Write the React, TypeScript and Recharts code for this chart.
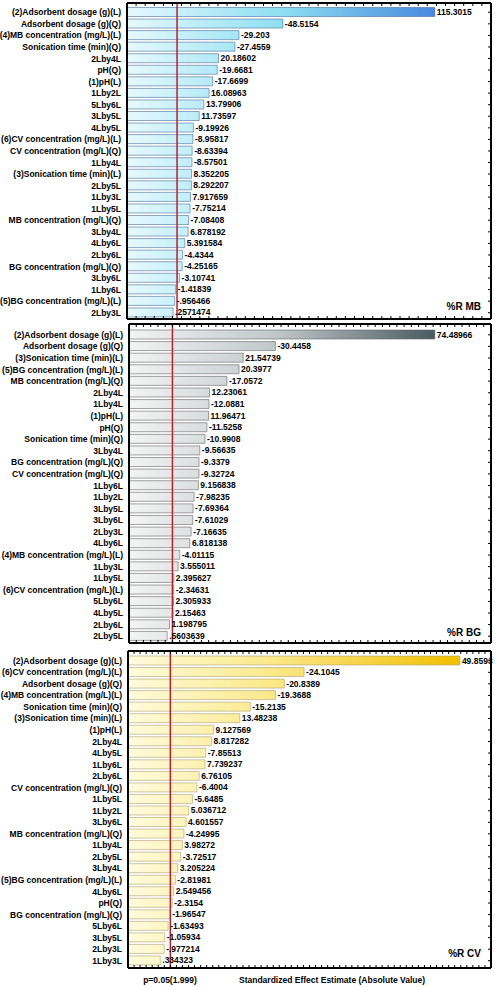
import React from 'react';
import { BarChart, Bar, XAxis, YAxis, LabelList, ReferenceLine } from 'recharts';

const mbFactors = [
  '(2)Adsorbent dosage (g)(L)', 'Adsorbent dosage (g)(Q)', '(4)MB concentration (mg/L)(L)', 'Sonication time (min)(Q)',
  '2Lby4L', 'pH(Q)', '(1)pH(L)', '1Lby2L', '5Lby6L', '3Lby5L', '4Lby5L', '(6)CV concentration (mg/L)(L)',
  'CV concentration (mg/L)(Q)', '1Lby4L', '(3)Sonication time (min)(L)', '2Lby5L', '1Lby3L', '1Lby5L',
  'MB concentration (mg/L)(Q)', '3Lby4L', '4Lby6L', '2Lby6L', 'BG concentration (mg/L)(Q)', '3Lby6L', '1Lby6L',
  '(5)BG concentration (mg/L)(L)', '2Lby3L',
];
const mbEffects = [
  115.3015, -48.5154, -29.203, -27.4559, 20.18602, -19.6681, -17.6699, 16.08963, 13.79906, 11.73597, -9.19926,
  -8.95817, -8.63394, -8.57501, 8.352205, 8.292207, 7.917659, -7.75214, -7.08408, 6.878192, 5.391584, -4.4344,
  -4.25165, -3.10741, -1.41839, -0.956466, 0.2571474,
];

const bgFactors = [
  '(2)Adsorbent dosage (g)(L)', 'Adsorbent dosage (g)(Q)', '(3)Sonication time (min)(L)', '(5)BG concentration (mg/L)(L)',
  'MB concentration (mg/L)(Q)', '2Lby4L', '1Lby4L', '(1)pH(L)', 'pH(Q)', 'Sonication time (min)(Q)', '3Lby4L',
  'BG concentration (mg/L)(Q)', 'CV concentration (mg/L)(Q)', '1Lby6L', '1Lby2L', '3Lby5L', '3Lby6L', '2Lby3L',
  '4Lby6L', '(4)MB concentration (mg/L)(L)', '1Lby3L', '1Lby5L', '(6)CV concentration (mg/L)(L)', '5Lby6L',
  '4Lby5L', '2Lby6L', '2Lby5L',
];
const bgEffects = [
  74.48966, -30.4458, 21.54739, 20.3977, -17.0572, 12.23061, -12.0881, 11.96471, -11.5258, -10.9908, -9.56635,
  -9.3379, -9.32724, 9.156838, -7.98235, -7.69364, -7.61029, -7.16635, 6.818138, -4.01115, 3.555011, 2.395627,
  -2.34631, 2.305933, 2.15463, 1.198795, 0.5603639,
];

const cvFactors = [
  '(2)Adsorbent dosage (g)(L)', '(6)CV concentration (mg/L)(L)', 'Adsorbent dosage (g)(Q)', '(4)MB concentration (mg/L)(L)',
  'Sonication time (min)(Q)', '(3)Sonication time (min)(L)', '(1)pH(L)', '2Lby4L', '4Lby5L', '1Lby6L', '2Lby6L',
  'CV concentration (mg/L)(Q)', '1Lby5L', '1Lby2L', '3Lby6L', 'MB concentration (mg/L)(Q)', '1Lby4L', '2Lby5L',
  '3Lby4L', '(5)BG concentration (mg/L)(L)', '4Lby6L', 'pH(Q)', 'BG concentration (mg/L)(Q)', '5Lby6L', '3Lby5L',
  '2Lby3L', '1Lby3L',
];
const cvEffects = [
  49.8593, -24.1045, -20.8389, -19.3688, -15.2135, 13.48238, 9.127569, 8.817282, -7.85513, 7.739237, 6.76105,
  -6.4004, -5.6485, 5.036712, 4.601557, -4.24995, 3.98272, -3.72517, 3.205224, -2.81981, 2.549456, -2.3154,
  -1.96547, -1.63493, -1.05934, -0.977214, 0.334323,
];

const CRITICAL_T = 1.999;
const responseLabels = ['%R MB', '%R BG', '%R CV'];
const pLabel = 'p=0.05(1.999)';
const xTitle = 'Standardized Effect Estimate (Absolute Value)';

const FONT = "'Liberation Sans', Arial, Helvetica, sans-serif";
const fmt = (v: any) => String(v).replace(/^(-?)0\./, '$1.');

type PanelCfg = {
  factors: string[];
  effects: number[];
  domain: [number, number];
  tickStep: number;
  yAxisWidth: number;
  top: number;
  height: number;
  plotTop: number;
  padTop: number;
  padBottom: number;
  gradId: string;
  gradEnd: number;
  stops: [string, string][];
  stroke: string;
};

const panels: PanelCfg[] = [
  {
    factors: mbFactors, effects: mbEffects, domain: [-20, 140], tickStep: 4, yAxisWidth: 127,
    top: 0, height: 322, plotTop: 3, padTop: 3.5, padBottom: 0.5, gradId: 'gMB', gradEnd: 437,
    stops: [['0', '#e6f9fd'], ['0.5', '#8edff2'], ['1', '#4787de']], stroke: '#4a6fa0',
  },
  {
    factors: bgFactors, effects: bgEffects, domain: [-10, 90], tickStep: 2, yAxisWidth: 129,
    top: 321, height: 325, plotTop: 3, padTop: 5, padBottom: 1, gradId: 'gBG', gradEnd: 436,
    stops: [['0', '#f3f4f4'], ['0.48', '#c0c7c8'], ['1', '#4a5960']], stroke: '#666',
  },
  {
    factors: cvFactors, effects: cvEffects, domain: [-5, 55], tickStep: 1, yAxisWidth: 128,
    top: 648, height: 323, plotTop: 3, padTop: 4, padBottom: 1.5, gradId: 'gCV', gradEnd: 461,
    stops: [['0', '#fffbdc'], ['0.4', '#fbea90'], ['1', '#f0bf00']], stroke: '#b0a070',
  },
];

const frameLine = { stroke: '#000', strokeWidth: 2 };
const tickLineStyle = { stroke: '#000', strokeWidth: 1 };
const textStyle = { fontSize: 8.5, fontWeight: 700, fill: '#000', fontFamily: FONT };

const FactorTick = (props: any) => {
  const { x, y, payload } = props;
  return (
    <text x={x} y={y} dy={3} textAnchor="end" style={textStyle}>
      {payload.value}
    </text>
  );
};

const EmptyTick = () => <g />;

function Panel({ p }: { p: PanelCfg }) {
  const data = p.factors.map((name, i) => ({ name, value: p.effects[i], abs: Math.abs(p.effects[i]) }));
  const ticks: number[] = [];
  for (let t = p.domain[0]; t <= p.domain[1] + 1e-9; t += p.tickStep) ticks.push(Number(t.toFixed(4)));
  const lo = p.domain[0];
  return (
    <div style={{ position: 'absolute', left: 0, top: p.top }}>
      <BarChart
        width={495}
        height={p.height}
        data={data}
        layout="vertical"
        margin={{ top: p.plotTop, right: 4, bottom: 3, left: 0 }}
      >
        <defs>
          <linearGradient id={p.gradId} gradientUnits="userSpaceOnUse" x1={p.yAxisWidth} y1={0} x2={p.gradEnd} y2={0}>
            {p.stops.map(([o, c]) => (
              <stop key={o} offset={o} stopColor={c} />
            ))}
          </linearGradient>
        </defs>
        <XAxis
          xAxisId="b" type="number" orientation="bottom" domain={p.domain} allowDataOverflow ticks={ticks}
          interval={0} mirror tick={<EmptyTick />} tickSize={3} axisLine={frameLine} tickLine={tickLineStyle}
        />
        <XAxis
          xAxisId="t" type="number" orientation="top" domain={p.domain} allowDataOverflow ticks={ticks}
          interval={0} mirror tick={<EmptyTick />} tickSize={3} axisLine={frameLine} tickLine={tickLineStyle}
        />
        <YAxis
          yAxisId="l" type="category" dataKey="name" width={p.yAxisWidth} interval={0} tickSize={0} tickMargin={6}
          padding={{ top: p.padTop, bottom: p.padBottom }} axisLine={frameLine} tickLine={false} tick={<FactorTick />}
        />
        <YAxis
          yAxisId="r" type="category" dataKey="name" orientation="right" mirror interval={0} tick={<EmptyTick />}
          tickSize={3} padding={{ top: p.padTop, bottom: p.padBottom }} axisLine={frameLine} tickLine={tickLineStyle}
        />
        <Bar
          xAxisId="b" yAxisId="l" dataKey={(d: any) => [lo, d.abs]} barSize={9}
          fill={`url(#${p.gradId})`} stroke={p.stroke} strokeWidth={0.6} isAnimationActive={false}
        >
          <LabelList dataKey="value" position="right" offset={2} formatter={fmt} style={textStyle} />
        </Bar>
        <ReferenceLine xAxisId="b" yAxisId="l" x={CRITICAL_T} stroke="#b5232b" strokeWidth={1.5} />
      </BarChart>
    </div>
  );
}

const respTops = [301, 627, 948];

export default function App() {
  return (
    <div style={{ position: 'absolute', left: 0, top: 0, width: 495, height: 987, background: '#fff', fontFamily: FONT }}>
      {panels.map((p) => (
        <Panel key={p.gradId} p={p} />
      ))}
      {responseLabels.map((t, i) => (
        <div
          key={t}
          style={{
            position: 'absolute', left: 0, width: 481, top: respTops[i], textAlign: 'right',
            fontSize: 10, fontWeight: 700, lineHeight: '12px', color: '#000',
          }}
        >
          {t}
        </div>
      ))}
      <div style={{ position: 'absolute', left: 120, width: 100, top: 974, textAlign: 'center', fontSize: 8.5, fontWeight: 700, lineHeight: '12px' }}>
        {pLabel}
      </div>
      <div style={{ position: 'absolute', left: 239, top: 974, fontSize: 8.5, fontWeight: 700, lineHeight: '12px', whiteSpace: 'nowrap' }}>
        {xTitle}
      </div>
    </div>
  );
}
